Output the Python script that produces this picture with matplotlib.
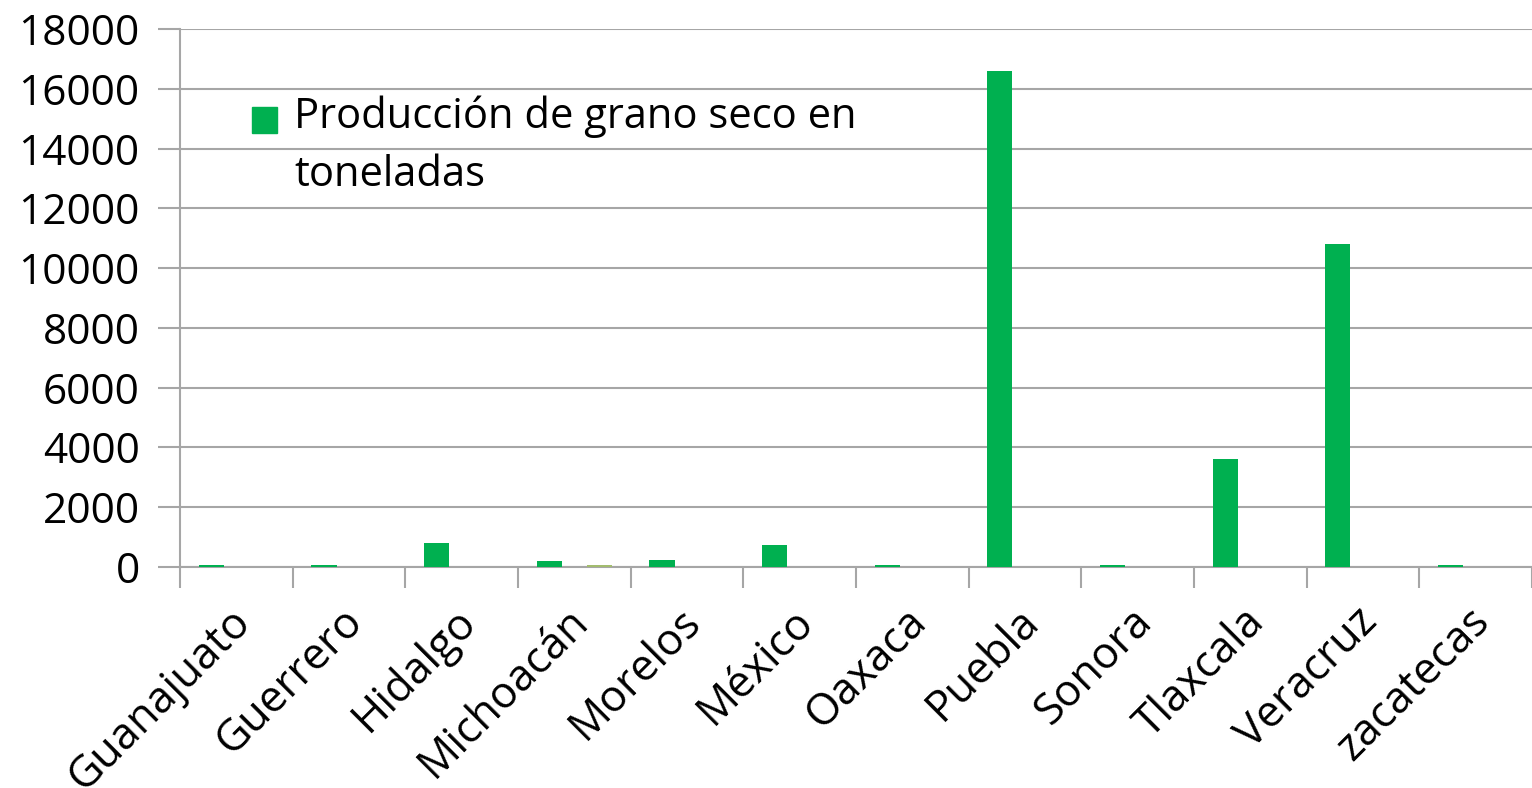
import numpy as np
import matplotlib.pyplot as plt
from matplotlib.patches import Rectangle
from matplotlib.ticker import FixedLocator, NullFormatter
from matplotlib.transforms import ScaledTranslation

plt.rcParams['font.family'] = ['Open Sans', 'DejaVu Sans']

# Producción por estado (toneladas)
estados = ['Guanajuato', 'Guerrero', 'Hidalgo', 'Michoacán', 'Morelos', 'México',
           'Oaxaca', 'Puebla', 'Sonora', 'Tlaxcala', 'Veracruz', 'zacatecas']
grano_seco = [70, 70, 790, 200, 240, 720, 70, 16600, 70, 3620, 10800, 70]
serie_2 = [0, 0, 0, 0, 0, 0, 0, 0, 0, 0, 0, 0]
serie_3 = [0, 0, 0, 60, 0, 0, 0, 0, 0, 0, 0, 0]
yticks = [0, 2000, 4000, 6000, 8000, 10000, 12000, 14000, 16000, 18000]
etiqueta = 'Producción de grano seco en\ntoneladas'

verde = '#00B050'
gris = '#A6A6A6'

fig = plt.figure(figsize=(15.32, 7.88), dpi=100)
ax = fig.add_axes([0.1175, 0.2805, 0.8825, 0.6827])

x = np.arange(len(estados))
w = 0.222
ax.bar(x - w, grano_seco, w, color=verde, zorder=5)
ax.bar(x, serie_2, w, color='#4F81BD', zorder=5)
ax.bar(x + w, serie_3, w, color='#A3BC6E', zorder=5)

ax.set_xlim(-0.5, len(estados) - 0.5)
ax.set_ylim(0, 18000)

ax.set_yticks(yticks)
ax.set_yticklabels([str(v) for v in yticks])
ax.grid(axis='y', color=gris, linewidth=1.5, zorder=0)

# marcas en los limites de cada categoria, etiquetas al centro
ax.xaxis.set_major_locator(FixedLocator(x))
ax.set_xticklabels(estados, rotation=45, ha='right', rotation_mode='anchor')
ax.xaxis.set_minor_locator(FixedLocator(np.arange(len(estados) + 1) - 0.5))
ax.xaxis.set_minor_formatter(NullFormatter())
ax.tick_params(axis='x', which='major', length=0, pad=22, labelsize=31.5)
ax.tick_params(axis='x', which='minor', length=15, width=1.5, color=gris)
ax.tick_params(axis='y', length=16, width=1.5, color=gris, labelsize=30.5, pad=13)
desplazamiento = ScaledTranslation(-0.08, -0.02, fig.dpi_scale_trans)
for lbl in ax.get_xticklabels():
    lbl.set_transform(lbl.get_transform() + desplazamiento)

for s in ['top', 'right']:
    ax.spines[s].set_visible(False)
for s in ['left', 'bottom']:
    ax.spines[s].set_color(gris)
    ax.spines[s].set_linewidth(1.5)
    ax.spines[s].set_zorder(4)

# leyenda: cuadro verde junto a la primera linea
ax.add_patch(Rectangle((252 / 1532, 1 - 133 / 788), 25 / 1532, 26 / 788,
                       transform=fig.transFigure, color=verde, clip_on=False))
fig.text(294 / 1532, 1 - 96 / 788, etiqueta, fontsize=30, va='top', ha='left',
         linespacing=1.5)

fig.savefig('out.png', dpi=100)
